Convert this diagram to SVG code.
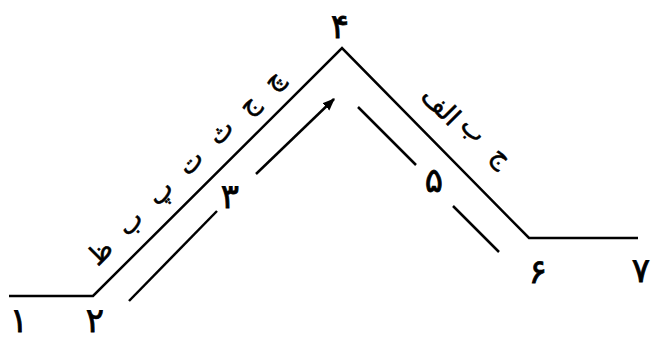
<svg xmlns="http://www.w3.org/2000/svg" width="651" height="341" viewBox="0 0 651 341">
<style>
.ln{fill:none;stroke:#000;stroke-width:2.5;stroke-linecap:butt;stroke-linejoin:miter}
.num{font-family:"DejaVu Sans","Noto Sans",sans-serif;font-size:34px;fill:#000;stroke:#000;stroke-width:0.8;text-anchor:middle}
.lbl{font-family:"DejaVu Sans","Noto Sans",sans-serif;font-size:26px;fill:#000;stroke:#000;stroke-width:0.6;text-anchor:middle}
</style>
<defs>
<marker id="ah" viewBox="0 0 10 10" refX="9" refY="5" markerWidth="5" markerHeight="5" orient="auto" markerUnits="strokeWidth">
<path d="M0,1 L10,5 L0,9 Z" fill="#000"/>
</marker>
</defs>
<g id="connectors">
<polyline class="ln" points="9,296 93,296 342,48 529,238 638,238"/>
<line class="ln" x1="129" y1="301" x2="217" y2="211"/>
<line class="ln" x1="256" y1="174" x2="334" y2="99" marker-end="url(#ah)"/>
<line class="ln" x1="358" y1="107" x2="416" y2="165"/>
<line class="ln" x1="453" y1="206" x2="499" y2="252"/>
</g>
<g id="n1"><text class="num" x="19" y="332">۱</text></g>
<g id="n2"><text class="num" x="95" y="332">۲</text></g>
<g id="n3"><text class="num" x="230" y="208">۳</text></g>
<g id="n4"><text class="num" x="340" y="38">۴</text></g>
<g id="n5"><text class="num" x="434" y="192">۵</text></g>
<g id="n6"><text class="num" x="538" y="283">۶</text></g>
<g id="n7"><text class="num" x="641" y="282">۷</text></g>
<g id="label-left"><text class="lbl" x="185" y="176" transform="rotate(-45 185 167)" direction="ltr" unicode-bidi="bidi-override" textLength="265" lengthAdjust="spacing">ظ ب پ ت ث ج چ</text></g>
<g id="label-right">
<text class="lbl" x="441" y="115" transform="rotate(45 441 106)">الف</text>
<text class="lbl" x="474" y="138" transform="rotate(45 474 129)">ب</text>
<text class="lbl" x="502" y="165" transform="rotate(45 502 156)">ج</text>
</g>
</svg>
